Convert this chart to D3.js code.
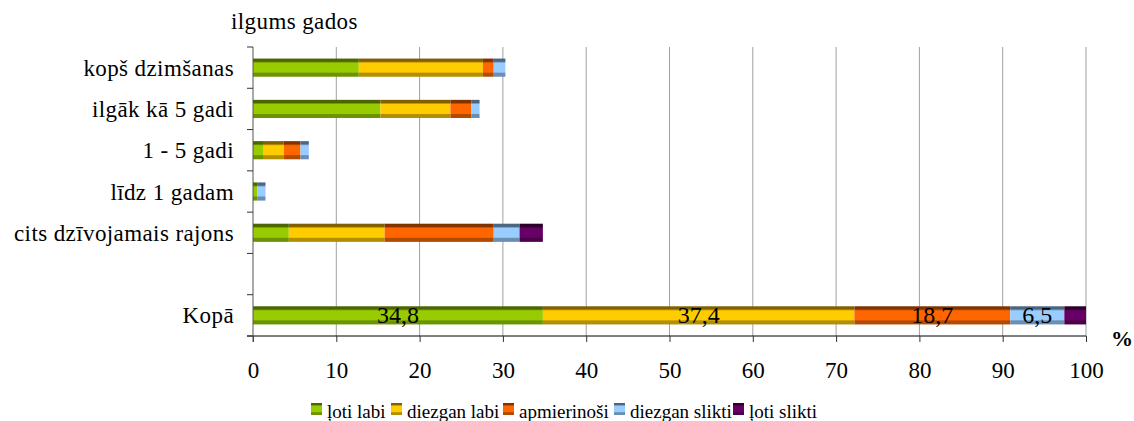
<!DOCTYPE html>
<html>
<head>
<meta charset="utf-8">
<script src="https://cdn.jsdelivr.net/npm/d3@7"></script>
<style>
  body { margin: 0; background: #fff; }
</style>
</head>
<body>
<div id="chart"></div>
<script>
// categories top to bottom ("" is the empty gap row)
var categories = ["kopš dzimšanas", "ilgāk kā 5 gadi", "1 - 5 gadi", "līdz 1 gadam", "cits dzīvojamais rajons", "", "Kopā"];
var seriesNames = ["ļoti labi", "diezgan labi", "apmierinoši", "diezgan slikti", "ļoti slikti"];

// values per series, same order as categories (null for the gap row)
var lotiLabi      = [12.7, 15.3, 1.2, 0.5, 4.3, null, 34.8];
var diezganLabi   = [14.9, 8.4, 2.5, 0, 11.5, null, 37.4];
var apmierinosi   = [1.3, 2.5, 2.0, 0, 13.1, null, 18.7];
var diezganSlikti = [1.4, 1.0, 1.0, 1.0, 3.1, null, 6.5];
var lotiSlikti    = [0, 0, 0, 0, 2.8, null, 2.6];

var xTicks = [0, 10, 20, 30, 40, 50, 60, 70, 80, 90, 100];

var w = 1134, h = 421;
var pL = 253, pR = 1086, pT = 47, pB = 336;
var serif = "'Liberation Serif', 'DejaVu Serif', serif";

var svg = d3.select("#chart").append("svg")
  .attr("width", w).attr("height", h);

// three tone striped gradients like the original
var shades = [
  ["#4a6600", "#99cc00", "#6b9400"],
  ["#806000", "#ffcc00", "#b38f00"],
  ["#803300", "#ff6600", "#b34a00"],
  ["#4d6680", "#99ccff", "#6b8fb3"],
  ["#2e0029", "#660066", "#4d004a"]
];
var defs = svg.append("defs");
shades.forEach(function(s, i) {
  var g = defs.append("linearGradient").attr("id", "g" + i)
    .attr("x1", 0).attr("y1", 0).attr("x2", 0).attr("y2", 1);
  [[0, s[0]], [0.15, s[0]], [0.25, s[1]], [0.75, s[1]], [0.8, s[2]], [1, s[2]]].forEach(function(st) {
    g.append("stop").attr("offset", st[0]).attr("stop-color", st[1]);
  });
});

var xScale = d3.scaleLinear().domain([0, 100]).range([pL, pR]);
var yScale = d3.scaleBand().domain(d3.range(categories.length)).range([pT, pB]).paddingInner(0.56).paddingOuter(0.28);

// gridlines
svg.append("g").selectAll("line").data(xTicks.slice(1)).enter().append("line")
  .attr("x1", function(d) { return xScale(d); }).attr("x2", function(d) { return xScale(d); })
  .attr("y1", pT).attr("y2", pB)
  .attr("stroke", "#a0a0a0").attr("stroke-width", 1);

// stack
var table = categories.map(function(c, i) {
  return { cat: i, s0: lotiLabi[i], s1: diezganLabi[i], s2: apmierinosi[i], s3: diezganSlikti[i], s4: lotiSlikti[i] };
}).filter(function(d) { return d.s0 !== null; });
var stack = d3.stack().keys(["s0", "s1", "s2", "s3", "s4"])(table);

var layers = svg.selectAll(".layer").data(stack).enter().append("g")
  .attr("class", "layer")
  .attr("fill", function(d, i) { return "url(#g" + i + ")"; });

layers.selectAll("rect").data(function(d) { return d; }).enter().append("rect")
  .attr("x", function(d) { return xScale(d[0]); })
  .attr("width", function(d) { return xScale(d[1]) - xScale(d[0]); })
  .attr("y", function(d) { return yScale(d.data.cat); })
  .attr("height", yScale.bandwidth());

// value labels on the total bar
var kopa = categories.length - 1;
var totalStack = stack.map(function(s) { return s.find(function(d) { return d.data.cat === kopa; }); });
svg.append("g").selectAll("text").data(totalStack.slice(0, 4)).enter().append("text")
  .attr("x", function(d) { return (xScale(d[0]) + xScale(d[1])) / 2; })
  .attr("y", yScale(kopa) + yScale.bandwidth() / 2 + 8)
  .attr("text-anchor", "middle")
  .style("font-family", serif).style("font-size", "24px")
  .text(function(d) { return d3.format(".1f")(d[1] - d[0]).replace(".", ","); });

// x axis
var xAxis = d3.axisBottom(xScale).tickValues(xTicks).tickSize(6).tickPadding(20);
var gx = svg.append("g").attr("transform", "translate(0," + pB + ")").call(xAxis);
gx.select(".domain").attr("d", "M" + (pL - 6) + ",0H" + pR).attr("stroke", "#000");
gx.selectAll(".tick line").attr("stroke", "#333");
gx.selectAll(".tick text").style("font-size", "23px").style("font-family", serif).attr("fill", "#000");

// y axis with ticks between categories
var yAxisG = svg.append("g");
yAxisG.append("line").attr("x1", pL).attr("x2", pL).attr("y1", pT).attr("y2", pB + 6).attr("stroke", "#555");
var step = (pB - pT) / categories.length;
yAxisG.selectAll(".yt").data(d3.range(categories.length + 1)).enter().append("line")
  .attr("x1", pL - 6).attr("x2", pL)
  .attr("y1", function(d) { return pT + d * step; }).attr("y2", function(d) { return pT + d * step; })
  .attr("stroke", "#333");
yAxisG.selectAll(".yl").data(categories).enter().append("text")
  .attr("x", 234)
  .attr("y", function(d, i) { return yScale(i) + yScale.bandwidth() / 2 + 8; })
  .attr("text-anchor", "end")
  .style("font-family", serif).style("font-size", "23px").style("letter-spacing", "0.4px")
  .text(function(d) { return d; });

svg.append("text").attr("x", 231).attr("y", 29).style("font-family", serif).style("font-size", "23px").style("letter-spacing", "0.4px").text("ilgums gados");
svg.append("text").attr("x", 1111).attr("y", 346).style("font-family", serif).style("font-size", "22px").style("font-weight", "bold").text("%");

// legend
var legendX = [311, 391, 503, 614, 733];
var lg = svg.append("g").selectAll("g").data(seriesNames).enter().append("g")
  .attr("transform", function(d, i) { return "translate(" + legendX[i] + ",403)"; });
lg.append("rect").attr("width", 11).attr("height", 12).attr("y", 0)
  .attr("fill", function(d, i) { return "url(#g" + i + ")"; });
lg.append("text").attr("x", 16).attr("y", 15).style("font-family", serif).style("font-size", "19px").text(function(d) { return d; });
</script>
</body>
</html>
